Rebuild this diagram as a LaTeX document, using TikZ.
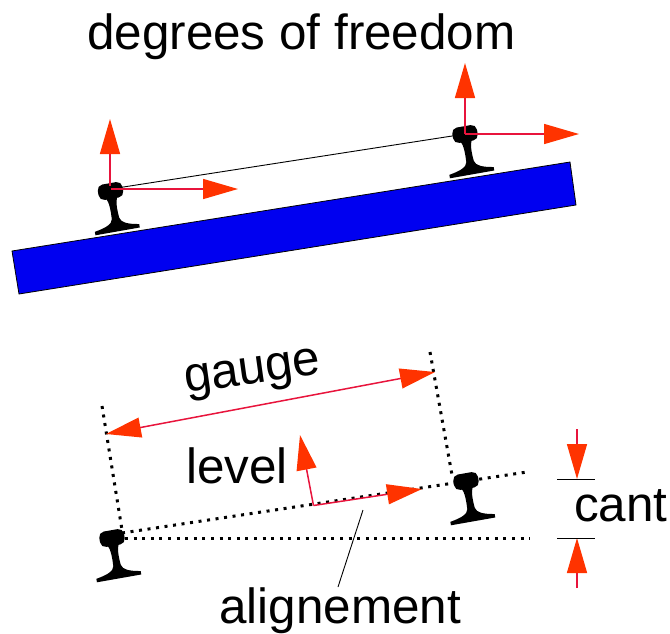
\documentclass[tikz,border=0pt]{standalone}
\usepackage{fontspec}
\setmainfont{Liberation Sans}
\usetikzlibrary{arrows.meta}
\definecolor{linered}{HTML}{E8143C}
\definecolor{headred}{HTML}{FF3300}
\definecolor{railblue}{HTML}{0000F0}
\tikzset{
  x=1pt,y=-1pt,
  redarrow/.style={draw=linered,line width=1.5pt,-{Triangle[length=35pt,width=20pt,color=headred,fill=headred]}},
  redboth/.style={draw=linered,line width=1.5pt,{Triangle[length=35pt,width=20pt,color=headred,fill=headred]}-{Triangle[length=35pt,width=20pt,color=headred,fill=headred]}},
  dotline/.style={draw=black,line width=3pt,dash pattern=on 3pt off 5.6pt},
  thinline/.style={draw=black,line width=0.9pt},
  tick/.style={draw=black,line width=1pt},
  lbl/.style={font=\fontsize{49.4}{49}\selectfont,inner sep=0pt,anchor=base west,text=black},
  rail/.pic={
    \fill[black,rounded corners=5.5pt] (-12.5,-7.8) -- (12.5,-7.8) -- (12.5,7.8) -- (-12.5,7.8) -- cycle;
    \fill[black] (-6,6) .. controls (-3,11) and (-3.2,20) .. (-3.6,28)
       .. controls (-4.5,33) and (-11,35.5) .. (-22.5,37.5) -- (-22.5,41) -- (22.5,41) -- (22.5,37.5)
       .. controls (11,35.5) and (5,33) .. (4,28)
       .. controls (3.2,20) and (3,11) .. (6,6) -- cycle;
  }
}
\begin{document}
\begin{tikzpicture}
\useasboundingbox (0,0) rectangle (670,633);
% top group
\fill[railblue,draw=black,line width=0.8pt] (12,251) -- (570,162) -- (576,205) -- (19,294) -- cycle;
\path (110.5,191) pic[rotate=10] {rail};
\path (465,134) pic[rotate=10] {rail};
\coordinate (ta) at (110.5,189);
\coordinate (tb) at (465,134);
\coordinate (taUp) at (110,119);
\coordinate (taRight) at (238,189);
\coordinate (tbUp) at (465,63);
\coordinate (tbRight) at (579,134);
\draw[thinline] (ta) -- (tb);
\draw[redarrow] (110,186) -- (taUp);
\draw[redarrow] (ta) -- (taRight);
\draw[redarrow] (tb) -- (tbUp);
\draw[redarrow] (tb) -- (tbRight);
\node[lbl] (title) at (87,49) {degrees of freedom};
% bottom group
\path (112,538) pic[rotate=10] {rail};
\path (466,481) pic[rotate=10] {rail};
\coordinate (ba) at (122,533);
\coordinate (bb) at (527,472);
\coordinate (bh) at (530,538);
\coordinate (bs) at (125,538);
\coordinate (gl1) at (102,406);
\coordinate (gl2) at (122,530);
\coordinate (gr1) at (430,352);
\coordinate (gr2) at (452,475);
\draw[dotline] (ba) -- (bb);
\draw[dotline] (bs) -- (bh);
\draw[dotline] (gl1) -- (gl2);
\draw[dotline] (gr1) -- (gr2);
\draw[redboth] (106,434) -- (435,372);
\coordinate (o) at (313.5,505.5);
\draw[redarrow] (o) -- (300,435);
\draw[redarrow] (o) -- (422,489);
\coordinate (al1) at (363,510);
\coordinate (al2) at (338,587);
\draw[thinline] (al1) -- (al2);
\coordinate (ct) at (577,429);
\coordinate (ctt) at (577,479);
\coordinate (cb) at (577,588);
\coordinate (cbt) at (577,538);
\draw[redarrow] (ct) -- (ctt);
\draw[redarrow] (cb) -- (cbt);
\draw[tick] (557,479) -- (595,479);
\draw[tick] (557,538) -- (595,538);
\node[lbl,rotate=8] (gauge) at (186,393) {gauge};
\node[lbl] (level) at (186,483) {level};
\node[lbl] (cant) at (574,521) {cant};
\node[lbl] (align) at (219,623) {alignement};
\end{tikzpicture}
\end{document}
